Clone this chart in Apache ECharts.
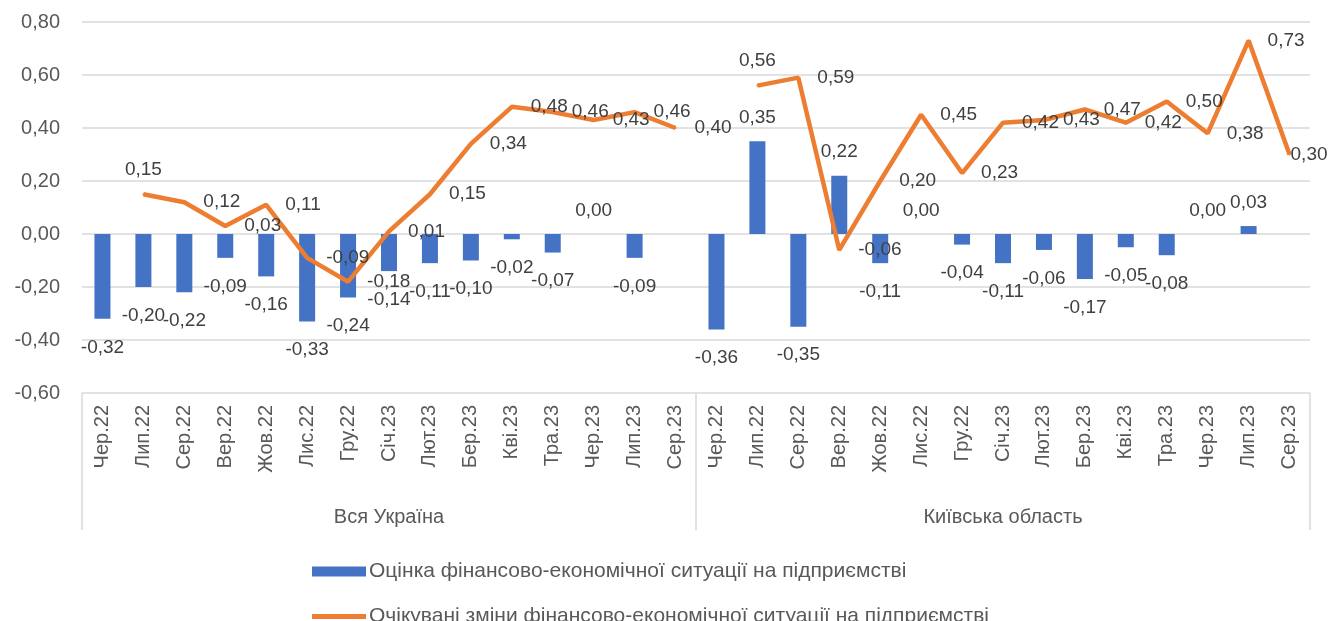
<!DOCTYPE html>
<html>
<head>
<meta charset="utf-8">
<script src="https://cdn.jsdelivr.net/npm/echarts@6/dist/echarts.min.js"></script>
<style>
  html, body { margin: 0; padding: 0; background: #fff; }
  #chart { width: 1337px; height: 621px; }
</style>
</head>
<body>
<div id="chart"></div>
<script>
const months = ['Чер.22', 'Лип.22', 'Сер.22', 'Вер.22', 'Жов.22', 'Лис.22', 'Гру.22', 'Січ.23',
  'Лют.23', 'Бер.23', 'Кві.23', 'Тра.23', 'Чер.23', 'Лип.23', 'Сер.23']
const groups = ['Вся Україна', 'Київська область']
const categories = groups.flatMap(() => months)

const barName = 'Оцінка фінансово-економічної ситуації на підприємстві'
const lineName = 'Очікувані зміни фінансово-економічної ситуації на підприємстві'

// Вся Україна, Київська область
const barUkraine = [-0.32, -0.20, -0.22, -0.09, -0.16, -0.33, -0.24, -0.14, -0.11, -0.10, -0.02, -0.07, 0.00, -0.09, null]
const barKyiv = [-0.36, 0.35, -0.35, 0.22, -0.11, 0.00, -0.04, -0.11, -0.06, -0.17, -0.05, -0.08, 0.00, 0.03, null]
const lineUkraine = [null, 0.15, 0.12, 0.03, 0.11, -0.09, -0.18, 0.01, 0.15, 0.34, 0.48, 0.46, 0.43, 0.46, 0.40]
const lineKyiv = [null, 0.56, 0.59, -0.06, 0.20, 0.45, 0.23, 0.42, 0.43, 0.47, 0.42, 0.50, 0.38, 0.73, 0.30]

const fmt = v => v.toFixed(2).replace('.', ',')
const FONT = 'Liberation Sans'
const TEXT = '#595959'
const LABEL = '#404040'

const chart = echarts.init(document.getElementById('chart'))

const barData = barUkraine.concat(barKyiv).map(v => v == null ? null : {
  value: v,
  label: { position: v < 0 ? 'bottom' : 'top', distance: v < 0 ? 19 : 14 }
})

// перша точка кожної лінії підписана зверху, остання - ближче до лінії
const lineAll = lineUkraine.concat(lineKyiv)
const lineData = lineAll.map((v, i) => {
  if (v == null) return null
  if (i > 0 && lineAll[i - 1] == null) return { value: v, label: { position: 'top', distance: 14 } }
  if (i === lineAll.length - 1) return { value: v, label: { position: 'right', distance: 0 } }
  return v
})

chart.setOption({
  animation: false,
  textStyle: { fontFamily: FONT },
  grid: { left: 82, right: 27, top: 22, bottom: 228 },
  legend: [{
    left: 307,
    top: 556,
    itemWidth: 54,
    itemHeight: 10,
    itemGap: 0,
    textStyle: { fontFamily: FONT, fontSize: 21, color: TEXT, padding: [0, 0, 0, -2] },
    data: [{ name: barName, icon: 'rect' }]
  }, {
    left: 307,
    top: 601,
    itemWidth: 54,
    itemHeight: 5,
    textStyle: { fontFamily: FONT, fontSize: 21, color: TEXT, padding: [0, 0, 0, -2] },
    data: [{ name: lineName, icon: 'path://M0,0L54,0L54,5L0,5Z' }]
  }],
  xAxis: [{
    type: 'category',
    data: categories,
    axisLine: { show: false },
    axisTick: { show: false },
    axisLabel: { rotate: 90, margin: 12, fontSize: 20, color: TEXT, fontFamily: FONT }
  }, {
    type: 'category',
    data: groups,
    position: 'bottom',
    axisLine: { show: false },
    axisTick: { show: true, length: 137, lineStyle: { color: '#d9d9d9', width: 1.5 } },
    axisLabel: { margin: 114, fontSize: 20, color: TEXT, fontFamily: FONT }
  }],
  yAxis: {
    type: 'value',
    min: -0.6,
    max: 0.8,
    interval: 0.2,
    axisLine: { show: false },
    axisTick: { show: false },
    axisLabel: { formatter: fmt, fontSize: 20, color: TEXT, margin: 22, fontFamily: FONT },
    splitLine: { lineStyle: { color: '#d9d9d9', width: 1.5 } }
  },
  series: [{
    name: barName,
    type: 'bar',
    xAxisIndex: 0,
    data: barData,
    barWidth: 16,
    itemStyle: { color: '#4472C4' },
    label: {
      show: true,
      formatter: p => fmt(p.value),
      fontSize: 19,
      color: LABEL,
      fontFamily: FONT
    }
  }, {
    name: lineName,
    type: 'line',
    xAxisIndex: 0,
    data: lineData,
    connectNulls: false,
    symbol: 'circle',
    symbolSize: 2,
    lineStyle: { color: '#ED7D31', width: 4.5 },
    itemStyle: { color: '#ED7D31' },
    label: {
      show: true,
      position: 'right',
      distance: 18,
      formatter: p => fmt(p.value),
      fontSize: 19,
      color: LABEL,
      fontFamily: FONT
    }
  }]
})
</script>
</body>
</html>
